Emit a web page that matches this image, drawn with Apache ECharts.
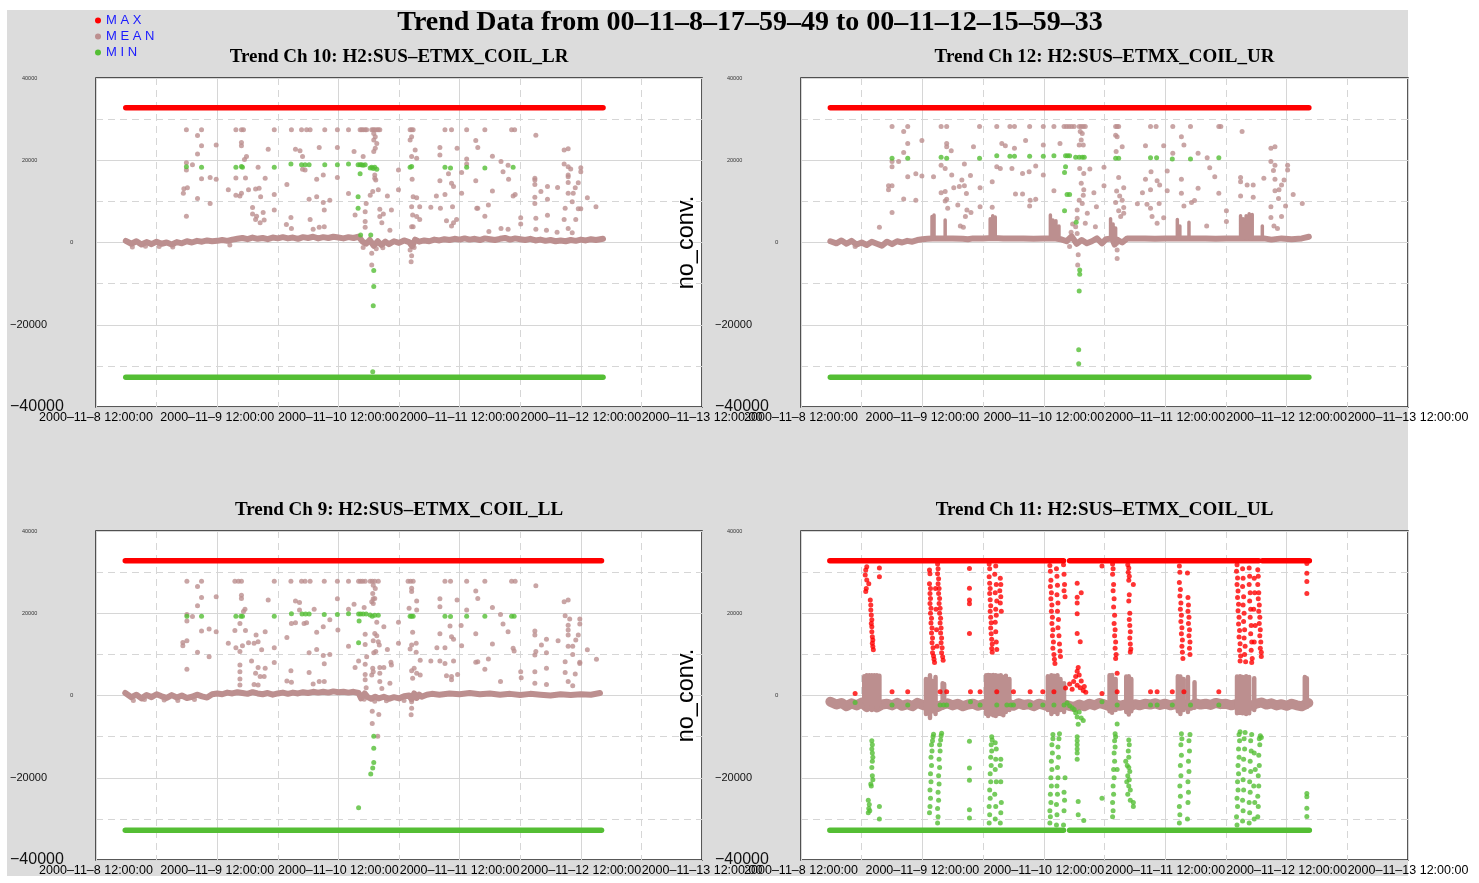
<!DOCTYPE html>
<html><head><meta charset="utf-8">
<script src="https://cdn.jsdelivr.net/npm/echarts@6/dist/echarts.min.js"></script>
<style>
html,body{margin:0;padding:0;background:#fff;}
#bg{position:absolute;left:7px;top:10px;width:1401px;height:866px;background:#dcdcdc;}
#chart{position:absolute;left:0;top:0;width:1479px;height:883px;}
</style></head><body>
<div id="bg"></div><div id="chart"></div>
<script>
// ---- tick labels ----
const xTickLabels = ['2000–11–8 12:00:00','2000–11–9 12:00:00','2000–11–10 12:00:00','2000–11–11 12:00:00','2000–11–12 12:00:00','2000–11–13 12:00:00'];
const yTickLabels = {'40000':'{t|40000}','20000':'{t|20000}','0':'{z|0}','-20000':'{m|−20000}','-40000':'{L|−40000}'};
const seriesNames = ['MAX','MEAN','MIN'];
const panelTitles = ['Trend Ch 10: H2:SUS–ETMX_COIL_LR','Trend Ch 12: H2:SUS–ETMX_COIL_UR','Trend Ch 9: H2:SUS–ETMX_COIL_LL','Trend Ch 11: H2:SUS–ETMX_COIL_UL'];
const mainTitle = 'Trend Data from 00–11–8–17–59–49 to 00–11–12–15–59–33';
// x values: hours since 2000-11-08 12:00:00

// ---- Ch 10 ----
const ch10MaxLine = [[5.9,32767],[100.4,32767]];
const ch10MinLine = [[5.9,-32768],[100.4,-32768]];
const ch10MeanLine = [[5.9,400],[7,-300],[8,300],[9,-500],[10,100],[11,-400],[12,200],[13,-300],[14,0],[15,-500],[16,100],[17,-200],[18,300],[19,0],[20,400],[21,200],[22,500],[23,300],[24,400],[25,600],[26,400],[27,700],[28,900],[29,1100],[30,800],[31,1200],[32,900],[33,1100],[34,800],[35,1200],[36,1000],[37,1300],[38,1000],[39,1200],[40,900],[41,1300],[42,1100],[43,1400],[44,1000],[45,1300],[46,1100],[47,1400],[48,1200],[49,1000],[50,1300],[51,1100],[52,1400],[52.8,200],[53.5,-300],[54.2,600],[55,-800],[55.8,300],[56.5,-600],[57.3,200],[58,-400],[59,300],[60,-100],[61,500],[62,100],[62.6,-900],[63.2,700],[64,200],[65,500],[66,300],[67,700],[68,500],[69,800],[70,600],[71,900],[72,700],[73,1000],[74,700],[75,900],[76,600],[77,1000],[78,800],[79,600],[80,900],[81,1100],[82,700],[83,1000],[84,800],[85,600],[86,900],[87,500],[88,700],[89,400],[90,600],[91,300],[92,500],[93,300],[94,600],[95,400],[96,700],[97,500],[98,800],[99,600],[100.4,900]];
const ch10MeanPts = [[17.9,27400],[20.9,27400],[27.7,27400],[28.8,27400],[29.2,27400],[35.3,27400],[38.7,27400],[40.7,27400],[41.7,27400],[42.4,27400],[45.3,27400],[47.8,27400],[50.0,27400],[52.3,27400],[52.6,27400],[52.9,27400],[53.3,27400],[53.6,27400],[54.6,27400],[54.9,27400],[55.2,27400],[55.6,27400],[55.9,27400],[56.2,27400],[62.2,27400],[62.5,27400],[62.8,27400],[69.1,27400],[70.4,27400],[73.4,27400],[77.0,27400],[82.3,27400],[82.9,27400],[87.1,26100],
[55.0,26500],[55.3,25700],[55.0,24900],[55.6,24100],[55.3,22900],[55.0,22100],
[20.1,26000],[20.9,23500],[23.8,23700],[20.1,21500],[17.9,19400],[19.1,18900],[17.9,17600],[20.9,15500],[22.6,15800],[23.8,15400],[17.4,13100],[18.1,13300],[17.3,12000],[20.1,10700],[22.6,9500],[17.9,6400],[26.2,12800],[27.7,15700],[27.7,11500],[28.8,24300],[28.8,23500],[29.8,20900],[29.4,20200],[29.6,15700],[28.5,11300],[28.8,12000],[30.2,12800],[31.6,13000],[32.3,13200],[32.6,11100],[31.0,8500],[31.0,6900],[31.8,6400],[31.6,5600],[32.5,4800],[33.3,5500],[33.1,7300],[33.5,15600],[32.1,18300],[34.1,22700],[35.3,11700],[35.3,7900],[37.8,14100],[37.7,4400],[38.6,6100],[38.7,3400],[39.5,22700],[40.4,22300],[40.9,17800],[41.4,17600],[40.9,20900],[42.2,10500],[42.4,5600],[43.0,3200],[43.7,15400],[43.7,11100],[44.2,23100],[45.0,16400],[45.0,9700],[45.2,7900],[45.2,3850],[44.2,3700],[47.8,23100],[47.8,15800],[46.3,10300],[50.0,11900],[51.1,22100],[51.3,6700],[52.9,20900],[53.5,9500],[53.3,7500],[53.3,5100],[53.3,3700],[52.9,-1200],[54.6,-2600],[54.6,-5500],[54.3,11500],[54.8,12400],[55.2,16400],[55.2,15600],[55.4,15200],[55.9,12800],[56.2,8100],[56.2,6300],[56.6,4800],[56.9,6900],[57.7,11300],[58.2,3000],[58.5,7900],[59.9,12800],[59.9,17600],[62.2,24900],[62.5,25700],[62.5,20900],[63.2,22500],[63.5,20500],[62.6,15400],[62.8,11100],[63.5,10900],[62.5,8700],[62.7,6700],[63.5,6300],[64.1,5600],[64.1,8700],[62.5,3800],[62.8,3800],[62.2,-1800],[62.5,-3200],[62.4,-4700],[66.3,8550],[67.4,11300],[68.1,23100],[68.1,21300],[68.1,15000],[68.2,8300],[69.1,11700],[69.8,16700],[70.4,14400],[70.8,13600],[70.6,8700],[69.4,5300],[70.8,4800],[70.4,4000],[71.4,5600],[71.5,22900],[72.4,17000],[72.4,12000],[73.4,20300],[73.4,19100],[75.2,24800],[75.6,23100],[75.2,15000],[75.4,8300],[75.6,8300],[77.0,6400],[77.7,9100],[77.8,2700],
[78.5,21000],[80.2,19700],[81.6,18800],[80.6,17200],[81.7,15400],[78.5,12500],[82.6,11300],[83.0,11700],[84.1,6000],[84.1,4500],[80.2,3400],[81.6,3200],[86.9,15600],[86.9,15200],[86.9,14100],[88.1,12400],[89.4,13600],[91.4,13400],[86.9,11000],[86.9,9500],[89.4,10500],[87.1,5900],[89.4,6600],[87.1,3200],[89.2,3000],[91.3,2500],[92.7,22500],[93.5,22800],[92.7,19100],[93.5,18400],[94.0,17900],[93.5,16400],[93.5,16000],[93.5,14600],[95.5,14500],[94.9,13300],[93.5,12000],[94.5,12000],[94.3,9900],[96.0,18200],[96.0,17200],[97.3,10900],[92.9,8300],[95.5,8200],[96.0,8200],[99.0,8700],[92.7,5600],[95.0,5600],[93.5,3400],[94.3,2400],
[7.2,-1100],[9.8,-900],[12.5,-1000],[15.2,-1100],[26.5,-600],[55.5,-1500],[56.8,-1300],[63.0,-1200]];
const ch10MinPts = [[17.9,18400],[20.9,18300],[27.7,18300],[28.8,18500],[29.0,18300],[35.3,18300],[38.6,19100],[40.7,18900],[41.4,18900],[42.2,18900],[45.3,18900],[47.8,18900],[50.0,19100],[51.9,18900],[52.3,18900],[52.6,18900],[52.9,18800],[53.3,18900],[54.3,18100],[54.6,18300],[54.9,18000],[55.2,18300],[55.6,17800],[62.2,18300],[62.5,18500],[69.1,18300],[70.2,18100],[73.4,18300],[77.0,18100],[82.6,18300],
[52.3,16700],[51.9,11100],[51.9,8300],[52.4,1800],[54.4,1800],[55.0,-6800],[55.0,-10700],[54.9,-15400],[54.8,-31400]];

// ---- Ch 12 ----
const ch12MaxLine = [[5.8,32767],[100.4,32767]];
const ch12MinLine = [[5.8,-32768],[100.4,-32768]];
const ch12MeanLine = [[5.8,300],[7,-200],[8,500],[9,-300],[10,400],[11,-500],[12,0],[13,-600],[14,200],[15,-300],[16,-800],[17,200],[18,-400],[19,300],[20,0],[21,400],[22,200],[23,600],[24,800],[25,900],[26,1000],[27.5,1000],[28.5,1000],[30,1000],[32,900],[33,800],[34,1000],[36,1000],[38,1100],[40,1000],[42,1000],[44,1000],[46,900],[48,1000],[50,1000],[51.3,800],[52.5,300],[53.5,1500],[54.5,-300],[55.5,600],[56.5,-200],[57.5,300],[58.5,1000],[59.5,-200],[60.3,800],[61.5,1000],[62.0,-500],[62.5,700],[63.5,0],[64.5,1000],[66,1000],[68,1000],[70,900],[72,1000],[74,1000],[76,1000],[78,1000],[80,1000],[82,900],[84,1000],[86,1000],[88,1000],[90,1000],[91.5,1000],[93,700],[95,1000],[97,800],[99,1000],[100.4,1400]];
// vertical runs of the mean: [hour, top, bottom]
const ch12MeanRuns = [[25.9,6300,1000],[26.3,6700,1000],[28.5,5500,1000],[37.4,5800,1000],[37.9,6500,1000],[38.4,6200,1000],[49.3,6700,1000],[49.8,5500,1000],[50.4,5300,1000],[51.0,4000,1000],[61.2,5800,1000],[61.7,4500,1000],[62.2,3500,1000],[74.4,5600,1000],[74.9,4000,1000],[76.7,4900,1000],[86.9,6500,1000],[87.4,5800,1000],[88.0,6500,1000],[88.6,7000,1000],[89.2,6800,1000],[91.2,4000,1000]];
const ch12MeanPts = [[18.0,28200],[21.1,28200],[27.7,28200],[28.8,28200],[35.3,28200],[38.7,28200],[41.3,28200],[42.2,28200],[45.2,28200],[47.9,28200],[50.0,28200],[52.0,28200],[52.5,28200],[53.0,28200],[53.5,28200],[54.0,28200],[55.0,28200],[55.4,28200],[55.8,28200],[56.2,28200],[62.2,28200],[62.5,28200],[62.8,28200],[69.1,28200],[70.2,28200],[73.5,28200],[77.0,28200],[82.6,28200],[83.0,28200],[87.2,27000],[55.2,27000],[55.6,26500],
[20.3,27000],[21.1,24100],[23.9,24800],[20.3,21900],[18.0,19700],[19.3,19700],[18.0,18400],[21.1,16000],[22.7,16700],[23.9,16200],[26.2,16000],[17.3,13800],[18.0,13800],[17.3,12800],[20.3,10600],[22.7,10300],[18.0,7300],[27.7,18800],[28.5,18000],[28.8,24100],[28.8,23300],[29.7,22300],[27.7,12100],[28.5,12400],[28.8,10500],[28.5,10100],[29.0,8300],[29.8,16400],[30.2,13300],[31.0,9100],[31.3,13600],[31.8,15200],[32.3,19100],[32.3,13800],[32.7,11900],[33.5,16300],[32.8,7900],[32.5,6300],[31.5,4000],[32.1,3700],[33.6,7300],[34.1,23300],[35.4,13300],[35.4,8700],[37.8,14800],[37.8,8600],[38.7,18400],[39.4,18000],[39.7,24100],[40.4,23500],[41.7,18000],[42.2,22900],[42.4,11800],[43.8,11800],[43.8,16800],[44.4,24800],[45.1,17200],[45.3,10300],[45.2,8900],[46.4,18600],[46.4,10500],[47.9,23700],[47.9,16400],[50.0,12600],[51.2,24100],[55.0,23700],[55.4,24900],[55.8,23700],[55.1,18000],[55.9,16800],[57.1,17900],[55.4,14400],[55.9,12800],[55.8,11500],[55.0,10300],[55.6,9500],[54.6,7900],[54.6,5900],[54.3,3850],[53.7,4500],[53.4,2500],[54.6,2200],[53.1,-1000],[54.8,-3000],[54.7,-5500],[56.6,7100],[56.2,4700],[57.9,12100],[58.4,8700],[58.2,3850],[59.9,18300],[59.9,13800],[62.2,26100],[62.5,25700],[62.3,22100],[63.5,23300],[62.8,15800],[63.8,13300],[62.4,12500],[63.0,11300],[63.5,10300],[62.2,9700],[63.8,8500],[62.8,7700],[63.2,6300],[63.8,7100],[62.4,-200],[62.5,-1800],[62.5,-3900],[66.5,9400],[67.5,12100],[68.1,15400],[68.1,23500],[69.2,17200],[69.1,12800],[68.4,9300],[69.1,8300],[69.4,6300],[70.4,15000],[70.9,14000],[70.8,9500],[70.4,4700],[71.7,23500],[71.7,6000],[72.4,17400],[72.4,12600],[73.5,21700],[75.2,15400],[75.2,25700],[75.7,23700],[75.2,12000],[75.7,8900],[77.2,9700],[77.8,10200],[78.5,21700],[78.5,13200],[80.3,20600],[80.8,18200],[81.8,16000],[80.2,4000],[82.6,12000],[84.1,7700],[84.1,5100],[86.9,15800],[86.9,14800],[88.2,14000],[89.4,14000],[86.9,11300],[89.4,11000],[91.5,15600],[92.9,22900],[93.7,23300],[92.9,19700],[93.7,18800],[96.2,18800],[93.4,17500],[96.2,17600],[93.7,15400],[95.5,15200],[95.0,14000],[94.5,12800],[93.7,12600],[97.3,11700],[94.4,10700],[92.9,8700],[95.8,8900],[99.1,9500],[92.9,6100],[95.0,6300],[93.5,4000],[94.2,3400],[15.5,3700],[10.7,-1000],[15.6,-400]];
const ch12MinPts = [[18.0,20500],[21.1,20500],[27.7,20700],[28.8,20500],[35.3,20500],[38.7,21100],[41.3,21000],[42.2,21000],[45.2,21000],[47.9,21000],[50.0,21100],[52.3,21100],[52.7,21100],[53.1,21100],[54.3,20700],[55.0,20700],[55.6,20700],[56.0,20700],[62.2,20500],[62.8,20500],[69.1,20600],[70.3,20600],[73.4,20300],[77.0,20300],[82.6,20600],
[52.3,18400],[52.1,17000],[52.6,11700],[53.1,11700],[52.1,7700],[54.4,4900],[55.1,-6700],[55.1,-7700],[55.0,-11800],[54.9,-26100],[54.9,-29500]];

// ---- Ch 9 ----
const ch9MaxLine = [[5.8,32767],[100.1,32767]];
const ch9MinLine = [[5.8,-32768],[100.1,-32768]];
const ch9MeanLine = [[5.8,600],[7,-400],[8,200],[9,-700],[10,100],[11,-400],[12,300],[13,-200],[14,-600],[15,100],[16,-500],[17,0],[18,-600],[19,-300],[20,200],[21,-200],[22,-500],[23,300],[24,500],[25,300],[26,700],[27,500],[28,800],[29,600],[30,400],[31,800],[32,500],[33,300],[34,600],[35,200],[36,500],[37,700],[38,400],[39,700],[40,500],[41,800],[42,600],[43,900],[44,700],[45,900],[46,700],[47,1000],[48,800],[49,900],[50,700],[51,900],[52,600],[52.5,-700],[53.2,500],[53.8,-400],[54.5,-800],[55.3,-300],[56,-700],[57,-300],[58,-800],[59,-400],[60,-700],[61,-200],[62,0],[62.5,-900],[63,500],[63.5,-600],[64,200],[64.5,-300],[65.5,200],[66.5,400],[68,200],[70,500],[72,300],[74,600],[76,300],[78,500],[80,200],[82,400],[84,100],[86,400],[88,200],[90,0],[92,300],[94,100],[96,300],[98,200],[99.8,600]];
const ch9MeanPts = [[18.0,27800],[20.9,27800],[27.5,27800],[28.2,27800],[28.8,27800],[35.3,27800],[38.6,27800],[40.7,27800],[41.4,27800],[42.4,27800],[45.2,27800],[47.8,27800],[50.0,27800],[52.0,27800],[52.4,27800],[52.8,27800],[53.3,27800],[54.3,27800],[54.7,27800],[55.2,27800],[55.9,27800],[61.8,27800],[62.3,27800],[62.8,27800],[69.1,27800],[70.2,27800],[73.4,27800],[77.0,27800],[82.3,27800],[83.0,27800],[87.1,26700],[54.9,26800],[55.3,26000],
[20.1,26500],[20.9,23800],[23.8,24000],[20.1,21800],[18.0,19700],[19.1,19200],[18.0,18100],[20.9,15700],[22.4,16200],[23.8,15500],[17.2,12900],[18.0,13300],[17.2,12100],[20.1,10500],[22.4,9400],[18.0,6400],[28.8,24400],[28.8,23600],[29.5,21000],[29.2,20400],[28.5,17500],[27.5,15800],[29.6,15800],[26.2,12700],[30.2,12850],[27.7,11600],[28.5,10700],[29.0,12100],[31.7,14700],[32.1,13100],[31.3,12700],[33.5,15500],[32.8,11100],[30.8,8400],[32.1,6800],[33.5,6600],[31.6,5400],[32.5,4600],[33.3,4600],[31.3,2700],[32.1,2550],[28.5,7400],[28.5,5800],[28.5,4000],[28.5,2550],[34.1,23200],[35.3,11600],[35.3,8000],[37.8,14100],[38.6,6000],[37.8,3500],[38.7,3200],[39.5,23000],[40.3,22600],[40.3,20800],[39.5,17700],[38.7,17500],[41.2,17500],[41.7,17700],[43.2,21000],[43.7,15400],[45.0,16700],[42.2,10400],[43.7,11200],[45.0,9700],[46.3,10000],[45.2,7700],[42.2,5600],[43.0,2800],[44.2,3400],[45.2,3400],[46.3,18400],[47.8,23500],[47.9,15900],[50.0,21000],[50.0,12000],[51.1,22200],[53.1,21400],[52.0,8400],[51.3,6800],[53.3,14900],[53.3,12400],[53.6,9400],[53.3,7600],[53.3,5100],[53.3,3800],[53.5,1900],[53.1,-900],[54.8,24800],[54.9,23500],[55.2,23600],[54.6,22800],[54.9,22400],[55.6,17800],[57.0,16700],[55.2,15100],[55.6,14500],[55.9,13100],[56.1,12300],[54.9,13300],[55.4,10700],[55.0,10400],[54.8,6600],[54.9,5800],[56.2,6800],[57.0,6800],[56.2,5400],[54.6,5000],[56.2,3400],[56.6,1700],[54.7,-3800],[56.0,-4600],[54.7,-6800],[55.8,-9900],[57.7,11200],[58.4,8100],[58.5,7400],[58.2,3000],[59.9,17800],[59.9,12700],[62.0,21200],[63.5,23000],[63.5,20800],[62.5,26100],[62.5,25300],[62.7,15400],[62.5,12300],[62.2,11300],[63.4,12700],[63.4,10500],[64.2,8600],[63.0,6600],[62.5,6000],[63.5,5400],[62.7,4200],[64.2,5000],[62.5,-1500],[62.5,-3100],[62.4,-4700],[66.3,8400],[67.5,11600],[68.1,23500],[68.1,21600],[68.1,15000],[69.1,11600],[68.1,8400],[69.1,7800],[70.8,8400],[69.4,4800],[70.4,4600],[70.4,3800],[71.6,5100],[70.1,16900],[70.4,14300],[70.8,13700],[71.5,23200],[72.3,17000],[72.4,12100],[73.4,20800],[75.2,8100],[75.6,8200],[75.2,25400],[75.6,23600],[75.2,15000],[77.0,6400],[77.7,8900],[78.5,21400],[78.5,12500],[80.1,19700],[80.6,17400],[81.6,15500],[80.1,3400],[82.6,11500],[82.8,10800],[84.1,5800],[84.2,4300],[86.9,15700],[86.9,14700],[87.1,10700],[86.9,9850],[86.9,5800],[86.9,3000],[88.2,12300],[89.2,13700],[89.2,10400],[89.2,6600],[89.2,2700],[91.5,13300],[92.7,22800],[93.5,23200],[92.9,19400],[93.8,18600],[95.8,18600],[95.8,17400],[93.5,17100],[93.5,15900],[93.5,14700],[95.5,14700],[95.0,13500],[94.4,12000],[93.5,12000],[94.4,10000],[97.3,11100],[92.9,8200],[95.8,8100],[95.8,7800],[99.1,8800],[92.9,5600],[94.9,5200],[93.5,3400],[94.4,2400],
[7.4,-1200],[9.6,-1000],[13.5,-1100],[16.2,-1200],[19.5,-1000],[55.2,-1400],[57.5,-1300],[61.0,-1200]];
const ch9MinPts = [[18.0,19300],[20.9,19300],[27.7,19300],[28.7,19300],[29.0,19300],[35.3,19300],[38.7,19900],[40.8,19800],[41.5,19800],[42.2,19800],[45.2,19700],[47.8,19700],[50.0,19900],[52.0,19800],[52.4,19800],[52.9,19800],[53.5,19800],[54.3,19600],[54.7,19300],[55.2,19500],[55.9,19500],[62.2,19300],[62.5,19300],[62.8,19300],[69.1,19300],[70.2,19200],[73.4,19300],[77.0,19300],[82.3,19300],[82.8,19300],
[52.1,18100],[52.0,12850],[55.0,-9900],[55.0,-12800],[55.0,-16300],[54.8,-17600],[54.4,-19100],[52.0,-27300]];

// ---- Ch 11 ----
const ch11MaxLine = [[5.7,32767],[51.9,32767],[52.5,'-'],[53.1,32767],[90.5,32767],[90.9,'-'],[91.2,32767],[100.5,32767]];
const ch11MinLine = [[5.7,-32768],[51.9,-32768],[52.5,'-'],[53.1,-32768],[100.5,-32768]];
const ch11MeanLine = [[5.8,-1500],[7,-2200],[8,-1800],[9,-2600],[10,-1900],[11,-2400],[12,-1700],[13,-2800],[14,-2000],[15,-2900],[16,-2200],[17,-2000],[18,-2400],[19,-1800],[20,-2500],[21,-2100],[22,-2600],[23,-1800],[24,-2300],[25,-2600],[26,-2000],[27,-2800],[28,-2200],[29,-1900],[30,-2400],[31,-2000],[32,-2600],[33,-2200],[34,-2000],[35,-2500],[36,-2100],[37,-2800],[38,-2300],[39,-2900],[40,-2400],[41,-2000],[42,-2500],[43,-1900],[44,-2300],[45,-2100],[46,-2600],[47,-2000],[48,-2300],[49,-2700],[50,-2200],[51,-2600],[52,-2100],[53,-2500],[54,-2800],[55,-2200],[56,-2600],[57,-2000],[58,-2400],[59,-1800],[60,-2200],[61,-2600],[62,-2000],[63,-2500],[64,-2200],[65,-2700],[66,-2100],[67,-2400],[68,-2000],[69,-2200],[70,-1900],[71,-2300],[72,-2000],[73,-2400],[74,-2100],[75,-2600],[76,-2200],[77,-2500],[78,-1900],[79,-2200],[80,-2000],[81,-2300],[82,-1800],[83,-2100],[84,-2000],[85,-2400],[86,-2100],[87,-2600],[88,-2200],[89,-2500],[90,-2000],[91,-1700],[92,-2200],[93,-1900],[94,-2400],[95,-2100],[96,-2500],[97,-2000],[98,-2400],[99,-2600],[100.3,-1800]];
// vertical runs of the mean: [hour, top, bottom]
const ch11MeanRuns = [[12.5,4700,-1500],[13.0,4900,-3000],[13.5,4900,-1500],[14.0,4900,-3500],[14.5,4900,-2000],[15.0,4900,-3000],[15.5,4800,-1800],
[24.7,4000,-4500],[25.5,4900,-5500],[26.0,3500,-3800],[26.6,4500,-4500],[28.0,3000,-3000],[28.3,2800,-2500],
[36.6,4900,-4500],[37.0,5000,-5000],[37.5,4900,-4500],[38.0,5000,-4800],[38.5,4900,-5000],[39.0,4800,-4500],[39.5,4900,-4500],[40.0,4500,-4800],[40.5,4800,-4000],[41.2,4000,-3500],
[48.8,4700,-3500],[49.5,4900,-4500],[50.0,4800,-4000],[50.7,4900,-4500],[51.3,4000,-3500],[52.0,3000,-4000],
[61.0,4900,-3800],[61.5,5000,-4200],[62.2,4000,-3500],[64.3,4600,-4000],[64.8,4700,-4600],[65.3,4000,-3800],
[74.5,4700,-3800],[75.0,4600,-4500],[75.6,4000,-3500],[76.5,4500,-4000],[77.8,3200,-3000],
[86.2,4600,-4300],[86.8,4700,-4200],[87.3,4500,-4300],[88.0,4700,-4500],[88.6,4500,-4300],[89.6,4200,-3500],
[99.6,4500,-1500],[100.0,4200,-2800]];
const ch11MaxPts = [[13.0,31300],[12.8,30500],[12.7,29300],[13.0,28100],[13.4,27200],[12.9,26000],[12.8,25300],[13.7,23200],[13.8,22000],[13.8,20800],[13.9,19600],[14.0,18400],[13.9,17500],[14.0,16700],[14.0,15500],[14.1,14300],[14.2,13500],[14.1,12700],[14.2,11900],[14.3,11100],[15.5,31000],[15.5,28900],
[25.4,30500],[25.5,29600],[25.4,27200],[25.6,26000],[25.5,24800],[25.6,23600],[25.5,22400],[25.7,21200],[25.6,20000],[25.8,18800],[25.7,17600],[25.9,16400],[25.8,15200],[26.0,14000],[25.9,12800],[26.1,11600],[26.0,10400],[26.2,9600],[26.3,8800],[26.4,8000],[27.0,32000],[27.1,30800],[27.0,29600],[27.2,28400],[27.1,27200],[27.3,26000],[27.2,24800],[27.4,23600],[27.3,22400],[27.5,21200],[27.4,20000],[27.6,18800],[27.5,17600],[27.7,16400],[27.6,15200],[27.8,14000],[27.7,12800],[27.9,11600],[27.8,10400],[28.0,9400],[28.1,8600],[26.6,26000],[26.7,21000],[26.8,16000],[26.9,12000],
[33.3,30900],[33.3,26100],[33.3,23200],[33.3,22300],[33.3,15100],
[37.2,32000],[37.3,30800],[37.2,28900],[37.3,27300],[37.4,26000],[37.3,24800],[37.4,23300],[37.5,21800],[37.4,20500],[37.5,19000],[37.6,17700],[37.5,16400],[37.6,15000],[37.7,13700],[37.8,12500],[37.7,11400],[37.8,10500],[38.5,31500],[38.3,29500],[38.6,27000],[38.4,25000],[38.7,23000],[38.5,21000],[38.6,19500],[38.4,17800],[38.5,15500],[38.6,13000],[38.7,11200],[39.4,28500],[39.5,27000],[39.3,25500],[39.5,24000],[39.4,22500],[39.6,20500],
[49.2,31600],[49.3,30200],[49.4,28000],[49.3,26500],[49.5,25000],[49.4,23500],[49.6,22000],[49.5,20500],[49.7,19000],[49.6,17500],[49.8,16000],[49.7,14500],[49.9,13000],[49.8,11500],[50.0,10000],[50.1,8800],[50.2,7800],[50.5,30800],[50.6,29000],[50.7,26800],[50.6,24500],[50.8,22500],[50.7,20500],[50.9,18500],[50.8,16500],[51.0,14500],[51.1,12500],[51.2,10800],[51.3,9500],[51.9,31800],[52.0,29500],[52.1,27000],[52.0,25500],[52.2,24000],
[54.6,27300],[55.4,25000],[54.6,23900],[54.6,22500],[54.6,19900],[54.6,15100],[55.2,13100],[59.5,31500],
[61.6,32000],[61.7,30800],[61.6,29500],[61.8,27000],[61.7,25500],[61.9,23500],[61.8,21500],[62.0,19500],[61.9,17500],[62.1,16000],[62.0,14500],[62.2,13000],[62.1,11500],[62.3,10000],[62.2,9000],
[64.6,31800],[64.8,31000],[64.7,30000],[64.9,29000],[64.8,28000],[65.7,27000],[64.9,24500],[64.8,23000],[65.0,20000],[64.9,18500],[65.0,17000],[65.1,15500],[65.0,14000],[65.1,12500],[65.2,11300],[65.1,10600],
[74.8,31500],[74.9,30000],[74.8,27500],[75.0,25800],[74.9,24200],[75.1,22500],[75.0,21000],[75.2,19500],[75.1,18000],[75.3,16500],[75.2,15000],[75.4,13500],[75.3,12000],[75.4,10500],[75.5,9000],[76.4,29800],[76.5,23800],[76.6,22000],[76.5,20500],[76.7,19000],[76.6,17500],[76.8,16000],[76.7,14500],[76.9,13000],[76.8,11500],[76.9,10000],
[86.2,31800],[86.1,30200],[86.3,28600],[86.2,27000],[86.4,25400],[86.3,23800],[86.5,22200],[86.4,20600],[86.6,19000],[86.5,17400],[86.7,15800],[86.6,14200],[86.8,12600],[86.7,11000],[86.9,9600],[86.8,8400],
[87.3,30800],[87.4,28500],[87.3,26500],[87.5,24000],[87.4,22000],[87.6,20000],[87.5,18000],[87.7,16000],[87.6,14000],[87.8,12000],[87.7,10000],[87.9,8200],
[88.6,31000],[88.7,29000],[88.6,27000],[88.8,25000],[88.7,23000],[88.9,21000],[88.8,19000],[89.0,17000],[88.9,15000],[89.1,13000],[89.0,11000],[89.2,9000],[89.1,8000],
[89.6,28500],[89.7,25000],[89.5,21000],[89.8,17000],[89.6,13000],
[90.3,30600],[90.4,29000],[90.3,27000],[90.5,25000],[90.4,23500],[90.6,22000],[90.5,20500],[90.7,19000],[90.6,17500],[90.8,16000],[90.7,14500],[90.9,13000],[90.8,11500],[91.0,10500],[91.0,9500],
[100.0,32100],[100.0,29700],[100.0,27700],[100.0,24800],
[10.7,500],[18.0,900],[21.1,900],[27.5,900],[28.8,900],[33.5,900],[35.4,900],[38.7,900],[42.0,900],[45.3,900],[47.8,900],[50.0,900],[52.3,1800],[53.1,2800],[53.6,1500],[53.9,3400],[54.3,4600],[54.6,2500],[55.0,5000],[55.2,1900],[55.4,3500],[55.8,1200],[56.0,2200],[56.3,800],[54.8,6800],[54.6,5900],[59.5,500],[62.5,900],[62.5,5400],[69.1,900],[70.4,900],[73.4,900],[75.7,900],[82.6,900]];
const ch11MinPts = [[10.7,-1700],[18.0,-2300],[21.1,-2300],[27.5,-2300],[28.2,-2300],[28.8,-2300],[33.5,-1500],[35.4,-2300],[38.7,-2300],[40.7,-2300],[41.5,-2300],[42.0,-2300],[45.3,-2300],[47.8,-2300],[50.0,-2300],[52.0,-2300],[52.6,-1800],[53.1,-2500],[53.6,-3000],[54.0,-3400],[54.3,-4200],[54.6,-5200],[55.0,-4000],[55.4,-5500],[55.8,-6100],[54.8,-7000],[59.5,-1500],[62.5,-2300],[62.5,-6900],[69.1,-2300],[70.4,-2300],[73.4,-2300],[77.0,-2300],[82.6,-2300],
[14.0,-11000],[14.1,-12000],[14.0,-13000],[14.1,-14000],[14.2,-15000],[14.1,-16000],[14.0,-17500],[14.1,-19500],[14.2,-20500],[13.8,-21500],[13.9,-22000],[13.3,-25500],[13.5,-26500],[13.4,-27500],[13.3,-28500],[13.6,-28000],[15.5,-27000],[15.5,-30000],
[25.4,-28500],[25.5,-27000],[25.6,-25000],[25.5,-23000],[25.7,-21000],[25.6,-19000],[25.8,-17000],[25.7,-15000],[25.9,-13500],[25.8,-12000],[26.0,-11000],[26.1,-10000],[26.2,-9400],[27.0,-31000],[27.1,-29500],[27.0,-27500],[27.2,-25500],[27.1,-23500],[27.3,-21500],[27.2,-19500],[27.4,-17500],[27.3,-15500],[27.5,-13500],[27.4,-12000],[27.6,-10800],[27.7,-9800],[27.8,-9200],
[33.3,-11100],[33.3,-17600],[33.3,-20600],[33.3,-27800],[33.3,-29800],
[37.2,-31000],[37.3,-29000],[37.2,-27000],[37.4,-25000],[37.3,-23000],[37.5,-21000],[37.4,-19000],[37.6,-17000],[37.5,-15000],[37.7,-13500],[37.6,-12000],[37.8,-10800],[37.7,-10000],[38.4,-30000],[38.5,-27000],[38.3,-24000],[38.6,-21000],[38.4,-18000],[38.5,-15500],[38.6,-13000],[38.4,-11500],[39.4,-31000],[39.5,-28500],[39.6,-26000],[39.5,-21000],[39.4,-17000],[39.5,-15500],
[49.2,-31000],[49.3,-29500],[49.2,-28000],[49.4,-26000],[49.3,-24000],[49.5,-22000],[49.4,-20000],[49.6,-18000],[49.5,-16000],[49.7,-14000],[49.6,-12000],[49.8,-10500],[49.8,-9500],[50.5,-31500],[50.6,-29000],[50.5,-26500],[50.7,-24000],[50.6,-22000],[50.8,-20000],[50.7,-17500],[50.9,-15000],[50.8,-12500],[51.0,-10500],[51.1,-9300],[52.0,-28000],[52.1,-25500],[52.0,-23500],[52.2,-20000],[51.9,-31500],
[54.6,-10000],[54.6,-11000],[54.6,-12000],[54.6,-13000],[54.6,-14000],[54.6,-15500],[54.8,-25800],[54.8,-29000],[55.9,-30400],[59.5,-25000],
[61.6,-29500],[61.7,-28000],[61.6,-26000],[61.8,-24000],[61.7,-22000],[61.9,-20000],[61.8,-18000],[62.0,-16000],[61.9,-14000],[62.1,-12500],[62.0,-11000],[62.2,-10000],[62.1,-9300],[62.5,-18000],
[64.8,-10800],[64.9,-12000],[64.7,-13500],[64.8,-15000],[64.2,-16000],[64.5,-17000],[64.8,-17500],[65.0,-18500],[64.6,-19500],[64.9,-20500],[64.4,-21000],[64.8,-22000],[65.1,-23000],[64.6,-24000],[65.1,-25500],[65.7,-27000],[65.7,-26000],
[74.8,-31000],[74.9,-29000],[74.8,-27000],[75.0,-24500],[74.9,-22000],[75.1,-19500],[75.0,-17000],[75.2,-14500],[75.1,-12000],[75.3,-10500],[75.2,-9300],[76.4,-30000],[76.5,-26000],[76.6,-23500],[76.5,-21000],[76.7,-18500],[76.6,-16000],[76.8,-13500],[76.7,-11000],[76.9,-9500],
[86.2,-31500],[86.1,-29500],[86.3,-27000],[86.2,-25000],[86.4,-23000],[86.3,-21000],[86.5,-19000],[86.4,-17000],[86.6,-15000],[86.5,-13000],[86.7,-11000],[86.6,-9500],[86.8,-8800],
[87.3,-30500],[87.4,-28000],[87.3,-25500],[87.5,-23000],[87.4,-20500],[87.6,-18000],[87.5,-15500],[87.7,-13000],[87.6,-10500],[87.8,-9000],
[88.6,-31000],[88.7,-28500],[88.6,-26000],[88.8,-23500],[88.7,-21000],[88.9,-18500],[88.8,-16000],[89.0,-13500],[88.9,-11000],[89.1,-9500],
[89.6,-30000],[89.7,-26000],[89.5,-22000],[89.8,-18000],[89.6,-14000],
[90.3,-29500],[90.4,-27000],[90.3,-24500],[90.5,-22000],[90.4,-19500],[90.6,-17000],[90.5,-14500],[90.7,-12000],[90.6,-10500],[90.8,-9800],[91.0,-10200],
[100.0,-23800],[100.0,-24600],[100.0,-27400],[100.0,-29400]];

// ---- build ----
const RED = '#ff0000', MEAN = '#bc8f8f', GREEN = '#54be34';
const grids = [
  {left:96, top:78, width:606, height:329},
  {left:801, top:78, width:607, height:329},
  {left:96, top:531, width:606, height:329},
  {left:801, top:531, width:607, height:329}
];
const yNames = ['', 'no_conv.', '', 'no_conv.'];

function runsToLine(runs){
  const out = [];
  runs.forEach(r => { out.push([r[0], r[1]]); out.push([r[0], r[2]]); out.push([r[0], '-']); });
  return out;
}
function band(name, data, color, gi, w, z){
  return {type:'line', name, data, xAxisIndex:gi, yAxisIndex:gi, symbol:'none', showSymbol:false,
    connectNulls:false, silent:true, z, itemStyle:{color},
    lineStyle:{color, width:w, cap:'round', join:'round'}};
}
function dots(name, data, color, gi, z){
  return {type:'scatter', name, data, xAxisIndex:gi, yAxisIndex:gi, symbol:'circle', symbolSize:5,
    silent:true, z, itemStyle:{color}};
}

const series = [];
const panelData = [
  {maxL:ch10MaxLine, minL:ch10MinLine, meanL:ch10MeanLine, meanP:ch10MeanPts, minP:ch10MinPts},
  {maxL:ch12MaxLine, minL:ch12MinLine, meanL:ch12MeanLine, meanP:ch12MeanPts, minP:ch12MinPts, runs:ch12MeanRuns, runW:3.5},
  {maxL:ch9MaxLine, minL:ch9MinLine, meanL:ch9MeanLine, meanP:ch9MeanPts, minP:ch9MinPts},
  {maxL:ch11MaxLine, minL:ch11MinLine, meanL:ch11MeanLine, meanP:null, minP:ch11MinPts, maxP:ch11MaxPts, runs:ch11MeanRuns, runW:4.5}
];
panelData.forEach((p, i) => {
  series.push(band('MAX', p.maxL, RED, i, 5.5, 2));
  series.push(band('MEAN', p.meanL, MEAN, i, i === 3 ? 10 : 6, 1));
  if (p.meanP) series.push(dots('MEAN', p.meanP, MEAN, i, 1));
  if (p.runs) series.push(band('MEAN', runsToLine(p.runs), MEAN, i, p.runW, 1));
  if (p.maxP) series.push(dots('MAX', p.maxP, RED, i, 2));
  series.push(band('MIN', p.minL, GREEN, i, 5.5, 3));
  series.push(dots('MIN', p.minP, GREEN, i, 3));
});

const gridLine = {show:true, lineStyle:{color:'#d6d6d6', width:1, type:'solid'}};
const gridDash = {show:true, lineStyle:{color:'#d6d6d6', width:1, type:[7,5]}};

const option = {
  animation:false,
  backgroundColor:'transparent',
  title: [
    {text: mainTitle, left:750, top:9, textAlign:'center', padding:0,
     textStyle:{fontFamily:'Liberation Serif', fontWeight:'bold', fontSize:28, color:'#000'}},
  ].concat(panelTitles.map((t, i) => ({
     text:t, left: grids[i].left + grids[i].width/2, top: grids[i].top - 30, textAlign:'center', padding:0,
     textStyle:{fontFamily:'Liberation Serif', fontWeight:'bold', fontSize:19, color:'#000'}}))),
  legend: {
    data: seriesNames, orient:'vertical', left:90, top:9, icon:'circle', itemWidth:6, itemHeight:6, itemGap:3,
    formatter: n => n.split('').join(' '),
    textStyle:{color:'#1a1aff', fontSize:13, fontFamily:'Liberation Sans', padding:[0,0,0,0]},
    selectedMode:false
  },
  grid: grids.map(g => Object.assign({show:true, backgroundColor:'#fff', borderColor:'#222', borderWidth:1.5, containLabel:false, outerBoundsMode:'none'}, g)),
  xAxis: grids.map((g, i) => ({
    type:'value', gridIndex:i, min:0, max:120, interval:24,
    axisLine:{show:false}, axisTick:{show:false},
    minorTick:{show:false, splitNumber:2},
    splitLine:gridLine, minorSplitLine:gridDash,
    axisLabel:{show:true, margin:4, color:'#000', fontSize:12.5, fontFamily:'Liberation Sans',
      showMinLabel:true, showMaxLabel:true, hideOverlap:false,
      formatter: v => xTickLabels[Math.round(v/24)] || ''}
  })),
  yAxis: grids.map((g, i) => ({
    type:'value', gridIndex:i, min:-40000, max:40000, interval:20000,
    name: yNames[i], nameLocation:'middle', nameGap:102, nameRotate:90,
    nameTextStyle:{fontSize:23.5, color:'#000', fontFamily:'Liberation Sans'},
    axisLine:{show:false}, axisTick:{show:false},
    minorTick:{show:false, splitNumber:2},
    splitLine:gridLine, minorSplitLine:gridDash,
    axisLabel:{show:true, margin:86, align:'left', color:'#222', fontFamily:'Liberation Sans',
      showMinLabel:true, showMaxLabel:true,
      formatter: v => yTickLabels[String(v)] || '',
      rich:{
        t:{fontSize:5.5, color:'#333', padding:[0,0,0,12], fontFamily:'Liberation Sans'},
        z:{fontSize:6, color:'#333', padding:[0,0,0,60], fontFamily:'Liberation Sans'},
        m:{fontSize:11, color:'#111', fontFamily:'Liberation Sans'},
        L:{fontSize:16, color:'#111', fontFamily:'Liberation Sans'}
      }}
  })),
  series
};
const chart = echarts.init(document.getElementById('chart'), null, {renderer:'canvas'});
chart.setOption(option);
</script>
</body></html>
